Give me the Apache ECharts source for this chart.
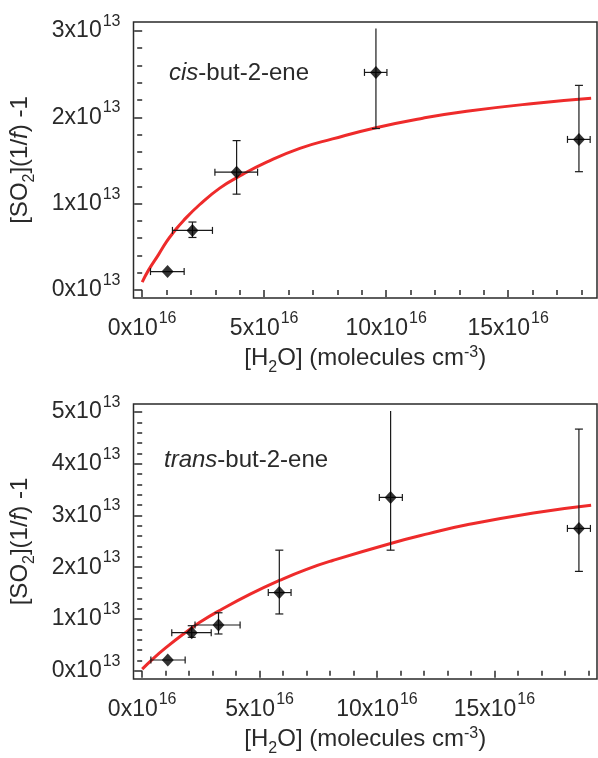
<!DOCTYPE html>
<html><head><meta charset="utf-8">
<script src="https://cdn.jsdelivr.net/npm/echarts@6/dist/echarts.min.js"></script>
<style>html,body{margin:0;padding:0;background:#fff}#c{width:598px;height:758px}</style>
</head><body><div id="c"></div>
<script>
// Units: x in 10^16 molecules cm^-3, y in 10^13
const xMajorTicks = [0, 5, 10, 15];
const xMinorCis = [1,2,3,4,6,7,8,9,11,12,13,14,16,17,18];
const xMinorTrans = [1,2,3,4,6,7,8,9,11,12,13,14,16,17,18,19];
const yMajorCis = [0, 1, 2, 3];
const yMinorCis = [0.2,0.4,0.6,0.8,1.2,1.4,1.6,1.8,2.2,2.4,2.6,2.8];
const yMajorTrans = [0, 1, 2, 3, 4, 5];
const yMinorTrans = [0.2,0.4,0.6,0.8,1.2,1.4,1.6,1.8,2.2,2.4,2.6,2.8,3.2,3.4,3.6,3.8,4.2,4.4,4.6,4.8];

// cis-but-2-ene measurements
const cisX    = [1.04, 2.06, 3.87, 9.58, 17.9];
const cisY    = [0.213, 0.69, 1.364, 2.52, 1.744];
const cisXLo  = [0.34, 1.24, 2.98, 9.11, 17.43];
const cisXHi  = [1.72, 2.88, 4.73, 10.03, 18.36];
const cisYLo  = [0.213, 0.608, 1.11, 1.87, 1.37];
const cisYHi  = [0.213, 0.787, 1.73, 3.03, 2.37];
const cisCapTop = [1, 1, 1, 0, 1];
// cis fit curve
const cisFitX = [0, 0.26, 0.67, 1.0, 1.29, 1.68, 2.36, 3.18, 4.0, 5.1, 6.46, 7.8, 9.58, 11.5, 13.3, 16.04, 18.4];
const cisFitY = [0.09, 0.23, 0.41, 0.56, 0.67, 0.80, 0.99, 1.18, 1.32, 1.48, 1.64, 1.75, 1.88, 1.99, 2.07, 2.16, 2.22];

// trans-but-2-ene measurements
const trX    = [1.09, 2.11, 3.25, 5.84, 10.58, 18.6];
const trY    = [0.207, 0.735, 0.884, 1.51, 3.35, 2.75];
const trXLo  = [0.37, 1.26, 2.25, 5.37, 10.1, 18.11];
const trXHi  = [1.83, 2.94, 4.17, 6.34, 11.08, 19.09];
const trYLo  = [0.207, 0.646, 0.71, 1.097, 2.33, 1.92];
const trYHi  = [0.207, 0.87, 1.12, 2.33, 5.02, 4.67];
const trCapTop = [1, 1, 1, 1, 0, 1];
// trans fit curve
const trFitX = [0, 0.48, 1.05, 1.76, 2.47, 3.32, 4.6, 5.87, 7.0, 8.11, 10.58, 12.2, 13.83, 16.66, 19.12];
const trFitY = [0.03, 0.24, 0.46, 0.71, 0.94, 1.17, 1.48, 1.75, 1.96, 2.13, 2.46, 2.65, 2.82, 3.05, 3.2];

const C = '#2a2a2a';
const FONT = '"Liberation Sans", Arial, sans-serif';

const tickRich = {
  b: {fontFamily: FONT, fontSize: 23, lineHeight: 35, color: C, verticalAlign: 'middle'},
  s: {fontFamily: FONT, fontSize: 16, lineHeight: 16, color: C, verticalAlign: 'top', padding: [0, 0, 0, 1]}
};
const nameRich = {
  t: {fontFamily: FONT, fontSize: 24, lineHeight: 35, color: C},
  i: {fontFamily: FONT, fontSize: 24, lineHeight: 35, color: C, fontStyle: 'italic'},
  sub: {fontFamily: FONT, fontSize: 16, lineHeight: 16, color: C, verticalAlign: 'bottom'},
  sup: {fontFamily: FONT, fontSize: 16, lineHeight: 16, color: C, verticalAlign: 'top', padding: [4, 0, 0, 0]}
};
const xName = '{t|[H}{sub|2}{t|O] (molecules cm}{sup|-3}{t|)}';
const yName = '{t|[SO}{sub|2}{t|](1/}{i|f}{t|) -1}';

function majorX(g, min, max) {
  return {type: 'value', gridIndex: g, min, max, position: 'bottom',
    axisLine: {show: false}, splitLine: {show: false},
    axisTick: {show: true, length: 7, customValues: xMajorTicks, lineStyle: {color: C, width: 1.5}},
    axisLabel: {customValues: xMajorTicks, margin: 13, formatter: v => '{b|' + v + 'x10}{s|16}', rich: tickRich},
    name: xName, nameLocation: 'middle', nameGap: 42, nameTextStyle: {rich: nameRich}};
}
function minorX(g, min, max, vals) {
  return {type: 'value', gridIndex: g, min, max, position: 'bottom',
    axisLine: {show: false}, splitLine: {show: false}, axisLabel: {show: false},
    axisTick: {show: true, length: 5, customValues: vals, lineStyle: {color: C, width: 1.5}}};
}
function majorY(g, min, max, ticks) {
  return {type: 'value', gridIndex: g, min, max, position: 'left',
    axisLine: {show: false}, splitLine: {show: false},
    axisTick: {show: true, length: 8, customValues: ticks, lineStyle: {color: C, width: 1.5}},
    axisLabel: {customValues: ticks, margin: 13, formatter: v => '{b|' + v + 'x10}{s|13}', rich: tickRich},
    name: yName, nameLocation: 'middle', nameGap: 96, nameTextStyle: {rich: nameRich}};
}
function minorY(g, min, max, vals) {
  return {type: 'value', gridIndex: g, min, max, position: 'left',
    axisLine: {show: false}, splitLine: {show: false}, axisLabel: {show: false},
    axisTick: {show: true, length: 5, customValues: vals, lineStyle: {color: C, width: 1.5}}};
}

function errRender(params, api) {
  const x = api.value(0), y = api.value(1), xlo = api.value(2), xhi = api.value(3),
        ylo = api.value(4), yhi = api.value(5), capTop = api.value(6);
  const L = api.coord([xlo, y]), R = api.coord([xhi, y]), T = api.coord([x, yhi]), B = api.coord([x, ylo]);
  const st = {stroke: '#1a1a1a', lineWidth: 1.2};
  const ch = [];
  const line = (x1, y1, x2, y2) => ch.push({type: 'line', shape: {x1, y1, x2, y2}, style: st});
  line(L[0], L[1], R[0], R[1]);
  line(L[0], L[1] - 3.5, L[0], L[1] + 3.5);
  line(R[0], R[1] - 3.5, R[0], R[1] + 3.5);
  if (yhi > ylo) {
    line(T[0], T[1], B[0], B[1]);
    if (capTop) line(T[0] - 4, T[1], T[0] + 4, T[1]);
    line(B[0] - 4, B[1], B[0] + 4, B[1]);
  }
  return {type: 'group', children: ch};
}

function errData(X, Y, XL, XH, YL, YH, CT) {
  return X.map((x, i) => [x, Y[i], XL[i], XH[i], YL[i], YH[i], CT[i]]);
}
function pairs(X, Y) { return X.map((x, i) => [x, Y[i]]); }

function panelSeries(g, fitX, fitY, X, Y, XL, XH, YL, YH, CT) {
  const xi = g * 2, yi = g * 2;
  return [
    {type: 'line', xAxisIndex: xi, yAxisIndex: yi, data: pairs(fitX, fitY), smooth: 0.5,
     showSymbol: false, symbol: 'none', lineStyle: {color: '#ee2b2b', width: 3}, z: 2, silent: true},
    {type: 'custom', xAxisIndex: xi, yAxisIndex: yi, renderItem: errRender,
     data: errData(X, Y, XL, XH, YL, YH, CT), clip: false, z: 3, silent: true},
    {type: 'scatter', xAxisIndex: xi, yAxisIndex: yi, data: pairs(X, Y), symbol: 'diamond',
     symbolSize: [12, 13], itemStyle: {color: '#000'}, z: 4, silent: true}
  ];
}

const chart = echarts.init(document.getElementById('c'), null, {renderer: 'canvas'});
chart.setOption({
  animation: false,
  backgroundColor: '#fff',
  grid: [
    {left: 133, top: 22, width: 464, height: 276, show: true, borderColor: C, borderWidth: 1.5, backgroundColor: 'transparent'},
    {left: 133, top: 404, width: 464, height: 275, show: true, borderColor: C, borderWidth: 1.5, backgroundColor: 'transparent'}
  ],
  xAxis: [
    majorX(0, -0.356, 18.64), minorX(0, -0.356, 18.64, xMinorCis),
    majorX(1, -0.37, 19.37), minorX(1, -0.37, 19.37, xMinorTrans)
  ],
  yAxis: [
    majorY(0, -0.093, 3.104, yMajorCis), minorY(0, -0.093, 3.104, yMinorCis),
    majorY(1, -0.16, 5.155, yMajorTrans), minorY(1, -0.16, 5.155, yMinorTrans)
  ],
  graphic: [
    {type: 'text', x: 169, y: 61, style: {text: '{i|cis}{n|-but-2-ene}',
      rich: {i: {fontFamily: FONT, fontSize: 24, fontStyle: 'italic', fill: C},
             n: {fontFamily: FONT, fontSize: 24, fill: C}}}},
    {type: 'text', x: 164, y: 448, style: {text: '{i|trans}{n|-but-2-ene}',
      rich: {i: {fontFamily: FONT, fontSize: 24, fontStyle: 'italic', fill: C},
             n: {fontFamily: FONT, fontSize: 24, fill: C}}}}
  ],
  series: [
    ...panelSeries(0, cisFitX, cisFitY, cisX, cisY, cisXLo, cisXHi, cisYLo, cisYHi, cisCapTop),
    ...panelSeries(1, trFitX, trFitY, trX, trY, trXLo, trXHi, trYLo, trYHi, trCapTop)
  ]
});
</script></body></html>
